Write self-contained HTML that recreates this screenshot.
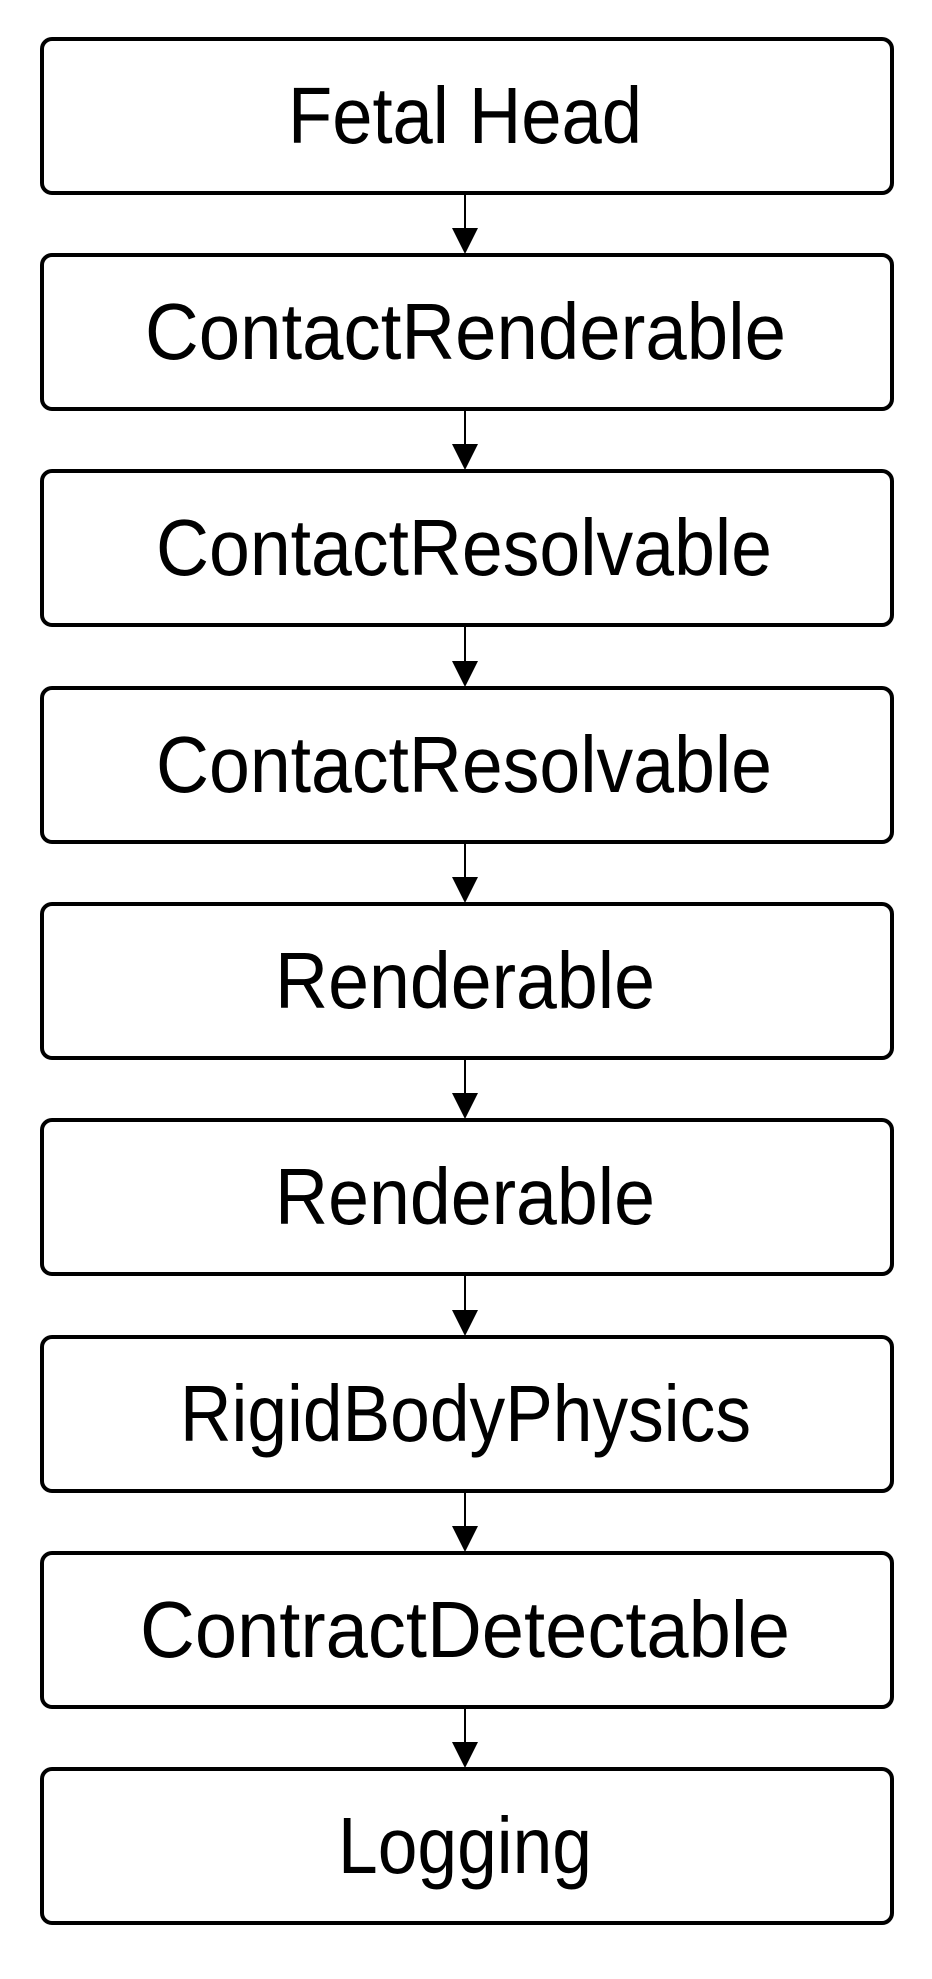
<!DOCTYPE html>
<html><head><style>html,body{margin:0;padding:0;background:#fff}</style></head>
<body>
<svg width="932" height="1974" viewBox="0 0 932 1974" xmlns="http://www.w3.org/2000/svg" font-family="Liberation Sans, sans-serif">
<rect width="932" height="1974" fill="#fff"/>
<g fill="none" stroke="#000" stroke-width="4">
<rect x="42" y="39" width="850" height="154" rx="10"/>
<rect x="42" y="255" width="850" height="154" rx="10"/>
<rect x="42" y="471" width="850" height="154" rx="10"/>
<rect x="42" y="688" width="850" height="154" rx="10"/>
<rect x="42" y="904" width="850" height="154" rx="10"/>
<rect x="42" y="1120" width="850" height="154" rx="10"/>
<rect x="42" y="1337" width="850" height="154" rx="10"/>
<rect x="42" y="1553" width="850" height="154" rx="10"/>
<rect x="42" y="1769" width="850" height="154" rx="10"/>
</g>
<g stroke="#000" stroke-width="2">
<line x1="465" y1="193" x2="465" y2="232"/>
<line x1="465" y1="409" x2="465" y2="448"/>
<line x1="465" y1="625" x2="465" y2="665"/>
<line x1="465" y1="842" x2="465" y2="881"/>
<line x1="465" y1="1058" x2="465" y2="1097"/>
<line x1="465" y1="1274" x2="465" y2="1314"/>
<line x1="465" y1="1491" x2="465" y2="1530"/>
<line x1="465" y1="1707" x2="465" y2="1746"/>
</g>
<g fill="#000">
<polygon points="452,228 478,228 465,254"/>
<polygon points="452,444 478,444 465,470"/>
<polygon points="452,661 478,661 465,687"/>
<polygon points="452,877 478,877 465,903"/>
<polygon points="452,1093 478,1093 465,1119"/>
<polygon points="452,1310 478,1310 465,1336"/>
<polygon points="452,1526 478,1526 465,1552"/>
<polygon points="452,1742 478,1742 465,1768"/>
</g>
<g font-size="80" fill="#000">
<text x="288" y="143" textLength="354" lengthAdjust="spacingAndGlyphs">Fetal Head</text>
<text x="145" y="359" textLength="641" lengthAdjust="spacingAndGlyphs">ContactRenderable</text>
<text x="156" y="575" textLength="616" lengthAdjust="spacingAndGlyphs">ContactResolvable</text>
<text x="156" y="792" textLength="616" lengthAdjust="spacingAndGlyphs">ContactResolvable</text>
<text x="275" y="1008" textLength="380" lengthAdjust="spacingAndGlyphs">Renderable</text>
<text x="275" y="1224" textLength="380" lengthAdjust="spacingAndGlyphs">Renderable</text>
<text x="180" y="1441" textLength="571" lengthAdjust="spacingAndGlyphs">RigidBodyPhysics</text>
<text x="140" y="1657" textLength="650" lengthAdjust="spacingAndGlyphs">ContractDetectable</text>
<text x="338" y="1873" textLength="254" lengthAdjust="spacingAndGlyphs">Logging</text>
</g>
</svg>
</body></html>
